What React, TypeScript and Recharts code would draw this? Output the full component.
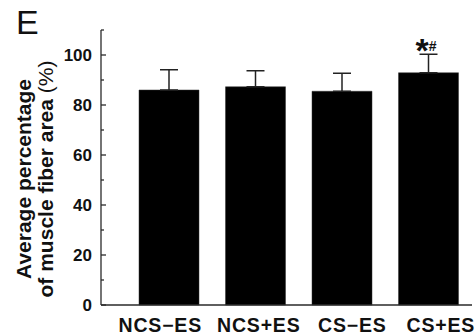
import { BarChart, Bar, XAxis, YAxis, ErrorBar, LabelList, Label } from 'recharts'

const groups = ['NCS\u2212ES', 'NCS+ES', 'CS\u2212ES', 'CS+ES']
const fiberArea = [86, 87.3, 85.5, 92.9]
const fiberAreaSd = [8.1, 6.4, 7.2, 7.4]
const marks = ['', '', '', '*#']
const yTicks = [0, 10, 20, 30, 40, 50, 60, 70, 80, 90, 100, 110]

const data = groups.map((name, i) => ({
  name,
  value: fiberArea[i],
  err: [0, fiberAreaSd[i]],
  mark: marks[i],
}))

const FONT = '"Liberation Sans", Arial, sans-serif'
const AXIS = '#2a2a2a'
// labels in the figure sit a little off the bar centres
const LABEL_SHIFT = [-9, 3, 10, 12]

function YTick({ x, y, payload }: any) {
  const major = payload.value % 20 === 0
  return (
    <g>
      <line x1={x} x2={x + (major ? 5 : 3)} y1={y} y2={y} stroke={AXIS} strokeWidth={1.3} />
      {major && (
        <text x={x - 9} y={y + 6} textAnchor="end" fontFamily={FONT} fontWeight="bold" fontSize={17} fill="#111">
          {payload.value}
        </text>
      )}
    </g>
  )
}

function XTick({ x, y, payload, index }: any) {
  return (
    <text
      x={x + (LABEL_SHIFT[index] ?? 0)}
      y={y + 27}
      textAnchor="middle"
      fontFamily={FONT}
      fontWeight="bold"
      fontSize={19.5}
      letterSpacing={0.8}
      fill="#111"
    >
      {payload.value}
    </text>
  )
}

function YTitle() {
  return (
    <g fontFamily={FONT} fontWeight="bold" fontSize={21} fill="#111">
      <text x={31} y={179} textAnchor="middle" transform="rotate(-90, 31, 179)">
        Average percentage
      </text>
      <text x={53} y={179} textAnchor="middle" transform="rotate(-90, 53, 179)">
        of muscle fiber area <tspan fontWeight="normal">(%)</tspan>
      </text>
    </g>
  )
}

function MarkLabel({ x, y, width, value }: any) {
  if (!value) return null
  const cx = x + width / 2
  return (
    <text x={cx - 13} y={y - 11} fontFamily={FONT} fontWeight="bold" fill="#111">
      <tspan fontSize={34}>{value[0]}</tspan>
      <tspan fontSize={14} dx={0} dy={-11}>{value.slice(1)}</tspan>
    </text>
  )
}

export default function App() {
  return (
    <div style={{ position: 'absolute', left: 0, top: 0, width: 475, height: 335, background: '#fff' }}>
      <div
        style={{
          position: 'absolute',
          left: 16,
          top: 2,
          fontFamily: FONT,
          fontSize: 34,
          lineHeight: '40px',
          color: '#111',
        }}
      >
        E
      </div>
      <BarChart width={475} height={335} data={data} margin={{ top: 30, right: 3, bottom: 0, left: 41 }}>
        <XAxis
          dataKey="name"
          height={30}
          axisLine={{ stroke: AXIS, strokeWidth: 1.3 }}
          tickLine={false}
          tickSize={0}
          tickMargin={0}
          padding={{ left: 25, right: 0 }}
          tick={<XTick />}
          interval={0}
        />
        <YAxis
          domain={[0, 110]}
          ticks={yTicks}
          interval={0}
          width={60}
          axisLine={{ stroke: AXIS, strokeWidth: 1.3 }}
          tickLine={false}
          tickSize={0}
          tickMargin={0}
          tick={<YTick />}
        >
          <Label content={<YTitle />} />
        </YAxis>
        <Bar dataKey="value" fill="#000" stroke="#333" strokeWidth={0.5} barSize={60} isAnimationActive={false}>
          <ErrorBar dataKey="err" width={9} stroke="#222" strokeWidth={1.5} direction="y" />
          <LabelList dataKey="mark" content={<MarkLabel />} />
        </Bar>
      </BarChart>
    </div>
  )
}
